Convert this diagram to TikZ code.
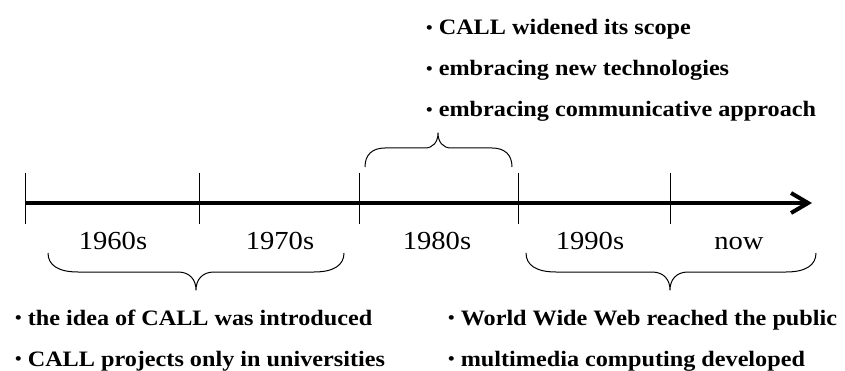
\documentclass[tikz,border=0pt]{standalone}
\usepackage{fontspec}
\setmainfont{Liberation Serif}[FakeStretch=1.1]
\usetikzlibrary{arrows.meta}
% small bullet in front of each note
\newcommand\smallbullet{{\fontsize{17}{17}\selectfont\raisebox{1.2pt}{•}}\ }
\begin{document}
\begin{tikzpicture}[x=1pt,y=-1pt,
  yearlabel/.style={inner sep=0pt, anchor=base, font=\fontsize{26}{30}\selectfont},
  bullet/.style={inner sep=0pt, anchor=base west, font=\fontsize{22}{26}\selectfont\bfseries},
  tick/.style={line width=1pt},
  brace/.style={line width=1pt, line join=round},
  axis/.style={line width=4pt, -{Straight Barb[length=17pt, width=20pt, line width=4pt]}}]
\useasboundingbox (0,0) rectangle (845,371);

% time axis
\coordinate (axstart) at (25,203);
\coordinate (axend) at (812,203);
\draw[axis] (axstart) -- (axend);

% decade ticks
\foreach \tx/\tn in {25/t1, 199/t2, 359/t3, 518/t4, 670/t5}{
  \coordinate (\tn a) at (\tx,173);
  \coordinate (\tn b) at (\tx,224);
  \draw[tick] (\tn a) -- (\tn b);
}

% decade labels
\node[yearlabel] (y60) at (113,249) {1960s};
\node[yearlabel] (y70) at (280,249) {1970s};
\node[yearlabel] (y80) at (437,249) {1980s};
\node[yearlabel] (y90) at (590,249) {1990s};
\node[yearlabel] (ynow) at (739,249) {now};

% brace over the 1980s
\draw[brace] (365,167) .. controls (365,155) and (372,148) .. (385,148)
  -- (425,148) .. controls (433,148) and (438,142) .. (438,133)
  .. controls (438,142) and (443,148) .. (451,148)
  -- (492,148) .. controls (505,148) and (512,155) .. (512,167);

% brace under 1960s--1970s
\draw[brace] (48,253) .. controls (48,265) and (58,272) .. (78,272)
  -- (178,272) .. controls (190,272) and (196,280) .. (196,290)
  .. controls (196,280) and (202,272) .. (214,272)
  -- (314,272) .. controls (334,272) and (344,265) .. (344,253);

% brace under 1990s--now
\draw[brace] (526,253) .. controls (526,265) and (536,272) .. (556,272)
  -- (652,272) .. controls (664,272) and (670,280) .. (670,290)
  .. controls (670,280) and (676,272) .. (688,272)
  -- (786,272) .. controls (806,272) and (816,265) .. (816,253);

% notes for the 1980s
\node[bullet] (n80a) at (426,35) {\smallbullet CALL widened its scope};
\node[bullet] (n80b) at (426,76) {\smallbullet embracing new technologies};
\node[bullet] (n80c) at (426,117) {\smallbullet embracing communicative approach};

% notes for the 1960s and 1970s
\node[bullet] (n60a) at (15,325) {\smallbullet the idea of CALL was introduced};
\node[bullet] (n60b) at (15,366) {\smallbullet CALL projects only in universities};

% notes for the 1990s onwards
\node[bullet] (n90a) at (448,325) {\smallbullet World Wide Web reached the public};
\node[bullet] (n90b) at (448,366) {\smallbullet multimedia computing developed};
\end{tikzpicture}
\end{document}
